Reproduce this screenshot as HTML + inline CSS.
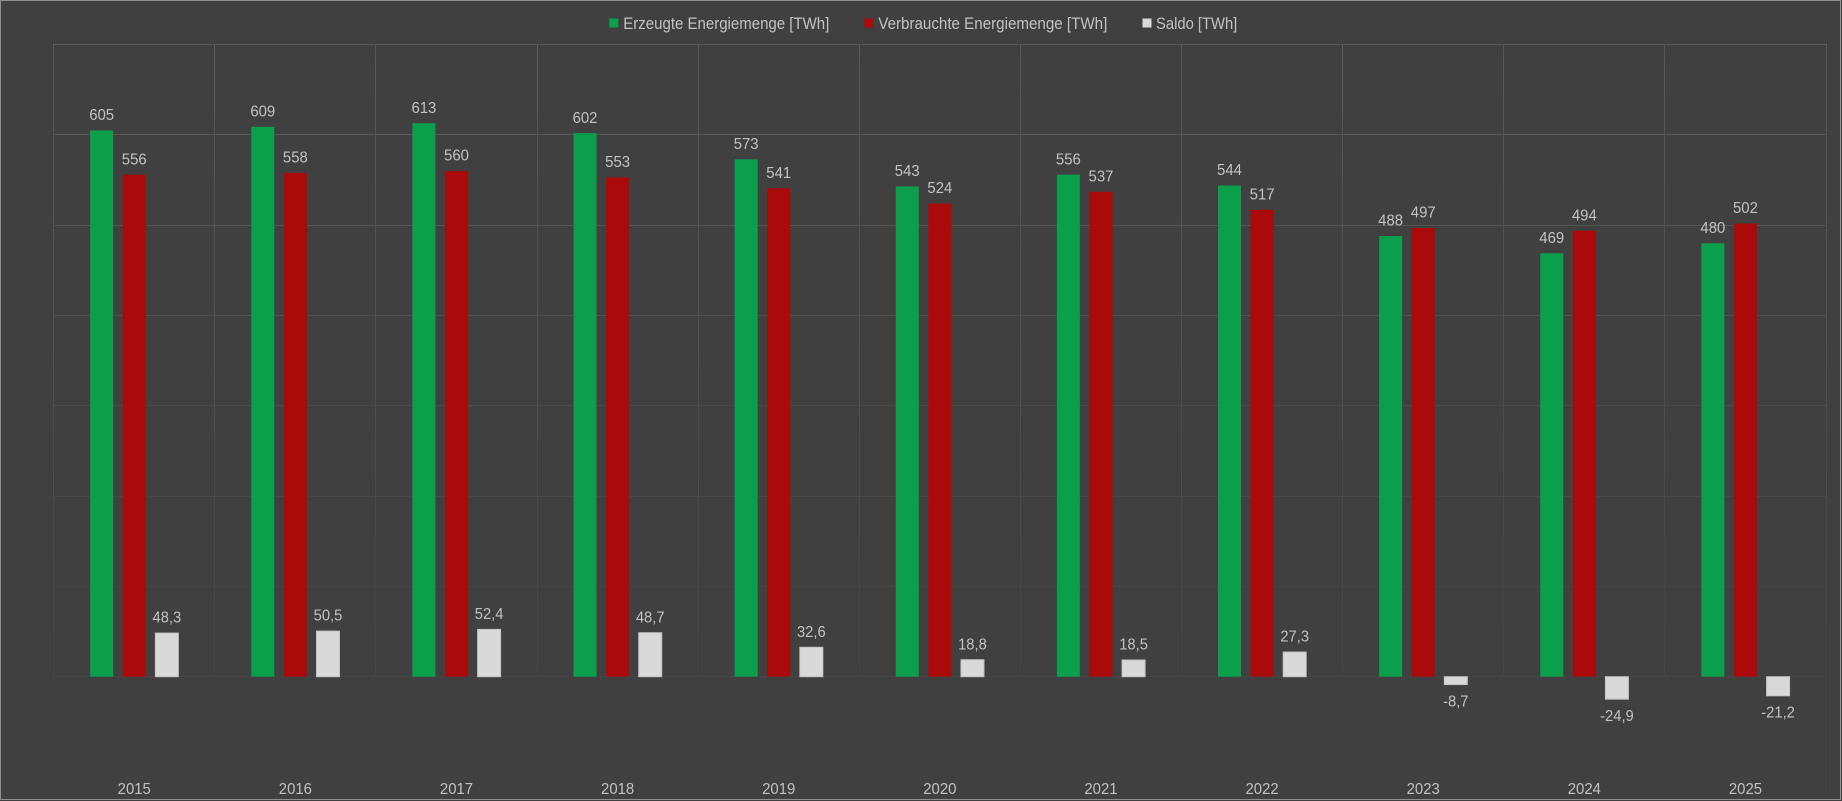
<!DOCTYPE html>
<html>
<head>
<meta charset="utf-8">
<style>
html,body{margin:0;padding:0;background:#404040;}
svg{display:block;}
text{font-family:"Liberation Sans",sans-serif;fill:#c2c2c2;}
</style>
</head>
<body>
<svg width="1842" height="801" viewBox="0 0 1842 801" xmlns="http://www.w3.org/2000/svg">
<defs>
<linearGradient id="vg" gradientUnits="userSpaceOnUse" x1="0" y1="44" x2="0" y2="677">
<stop offset="0" stop-color="#595959"/>
<stop offset="0.5" stop-color="#4f4f4f"/>
<stop offset="1" stop-color="#454545"/>
</linearGradient>
</defs>
<rect x="0" y="0" width="1842" height="801" fill="#404040"/>
<rect x="0.5" y="0.5" width="1840" height="799" fill="none" stroke="#8f8f8f" stroke-width="1"/>

<!-- horizontal gridlines -->
<g stroke-width="1">
<line x1="53.5" y1="44.5" x2="1826.5" y2="44.5" stroke="#595959"/>
<line x1="53.5" y1="134.5" x2="1826.5" y2="134.5" stroke="#575757"/>
<line x1="53.5" y1="225.5" x2="1826.5" y2="225.5" stroke="#545454"/>
<line x1="53.5" y1="315.5" x2="1826.5" y2="315.5" stroke="#4f4f4f"/>
<line x1="53.5" y1="405.5" x2="1826.5" y2="405.5" stroke="#4b4b4b"/>
<line x1="53.5" y1="496.5" x2="1826.5" y2="496.5" stroke="#484848"/>
<line x1="53.5" y1="586.5" x2="1826.5" y2="586.5" stroke="#454545"/>
<line x1="53.5" y1="676.5" x2="1826.5" y2="676.5" stroke="#454545"/>
</g>
<!-- vertical gridlines -->
<g stroke="url(#vg)" stroke-width="1">
<line x1="53.5" y1="44" x2="53.5" y2="677"/>
<line x1="214.5" y1="44" x2="214.5" y2="677"/>
<line x1="375.5" y1="44" x2="375.5" y2="677"/>
<line x1="537.5" y1="44" x2="537.5" y2="677"/>
<line x1="698.5" y1="44" x2="698.5" y2="677"/>
<line x1="859.5" y1="44" x2="859.5" y2="677"/>
<line x1="1020.5" y1="44" x2="1020.5" y2="677"/>
<line x1="1181.5" y1="44" x2="1181.5" y2="677"/>
<line x1="1342.5" y1="44" x2="1342.5" y2="677"/>
<line x1="1503.5" y1="44" x2="1503.5" y2="677"/>
<line x1="1664.5" y1="44" x2="1664.5" y2="677"/>
<line x1="1826.5" y1="44" x2="1826.5" y2="677"/>
</g>
<line x1="1826.5" y1="677" x2="1826.5" y2="795" stroke="#464646" stroke-width="1"/>

<!-- legend -->
<rect x="609.3" y="18.5" width="9" height="9" fill="#0b9f4c"/>
<text x="623.3" y="29" font-size="17" textLength="206" lengthAdjust="spacingAndGlyphs">Erzeugte Energiemenge [TWh]</text>
<rect x="864.3" y="18.5" width="9" height="9" fill="#ab0a0a"/>
<text x="878.3" y="29" font-size="17" textLength="229" lengthAdjust="spacingAndGlyphs">Verbrauchte Energiemenge [TWh]</text>
<rect x="1142.5" y="18.5" width="9" height="9" fill="#d9d9d9"/>
<text x="1156" y="29" font-size="17" textLength="81.3" lengthAdjust="spacingAndGlyphs">Saldo [TWh]</text>

<!-- green bars -->
<g fill="#0b9f4c">
<rect x="90.16" y="130.45" width="23" height="546.25"/>
<rect x="251.28" y="126.83" width="23" height="549.87"/>
<rect x="412.40" y="123.22" width="23" height="553.48"/>
<rect x="573.52" y="133.15" width="23" height="543.55"/>
<rect x="734.64" y="159.34" width="23" height="517.36"/>
<rect x="895.76" y="186.43" width="23" height="490.27"/>
<rect x="1056.88" y="174.69" width="23" height="502.01"/>
<rect x="1218.00" y="185.52" width="23" height="491.18"/>
<rect x="1379.12" y="236.08" width="23" height="440.62"/>
<rect x="1540.24" y="253.24" width="23" height="423.46"/>
<rect x="1701.36" y="243.31" width="23" height="433.39"/>
</g>
<!-- red bars -->
<g fill="#ab0a0a">
<rect x="122.76" y="174.69" width="23" height="502.01"/>
<rect x="283.88" y="172.88" width="23" height="503.82"/>
<rect x="445.00" y="171.08" width="23" height="505.62"/>
<rect x="606.12" y="177.40" width="23" height="499.30"/>
<rect x="767.24" y="188.23" width="23" height="488.47"/>
<rect x="928.36" y="203.58" width="23" height="473.12"/>
<rect x="1089.48" y="191.84" width="23" height="484.86"/>
<rect x="1250.60" y="209.90" width="23" height="466.80"/>
<rect x="1411.72" y="227.96" width="23" height="448.74"/>
<rect x="1572.84" y="230.67" width="23" height="446.03"/>
<rect x="1733.96" y="223.44" width="23" height="453.26"/>
</g>
<!-- saldo bars -->
<g fill="#d9d9d9" stroke="#c4c4c4" stroke-width="1">
<rect x="155.36" y="633.09" width="23" height="43.61"/>
<rect x="316.48" y="631.10" width="23" height="45.60"/>
<rect x="477.60" y="629.39" width="23" height="47.31"/>
<rect x="638.72" y="632.73" width="23" height="43.97"/>
<rect x="799.84" y="647.27" width="23" height="29.43"/>
<rect x="960.96" y="659.73" width="23" height="16.97"/>
<rect x="1122.08" y="660.00" width="23" height="16.70"/>
<rect x="1283.20" y="652.05" width="23" height="24.65"/>
<rect x="1444.32" y="676.70" width="23" height="7.86"/>
<rect x="1605.44" y="676.70" width="23" height="22.48"/>
<rect x="1766.56" y="676.70" width="23" height="19.14"/>
</g>

<!-- data labels -->
<g font-size="16" text-anchor="middle">
<text x="101.66" y="120.05" textLength="24.9" lengthAdjust="spacingAndGlyphs">605</text>
<text x="134.26" y="164.29" textLength="24.9" lengthAdjust="spacingAndGlyphs">556</text>
<text x="166.86" y="622.69" textLength="28.7" lengthAdjust="spacingAndGlyphs">48,3</text>

<text x="262.78" y="116.43" textLength="24.9" lengthAdjust="spacingAndGlyphs">609</text>
<text x="295.38" y="162.48" textLength="24.9" lengthAdjust="spacingAndGlyphs">558</text>
<text x="327.98" y="620.70" textLength="28.7" lengthAdjust="spacingAndGlyphs">50,5</text>

<text x="423.90" y="112.82" textLength="24.9" lengthAdjust="spacingAndGlyphs">613</text>
<text x="456.50" y="160.68" textLength="24.9" lengthAdjust="spacingAndGlyphs">560</text>
<text x="489.10" y="618.99" textLength="28.7" lengthAdjust="spacingAndGlyphs">52,4</text>

<text x="585.02" y="122.75" textLength="24.9" lengthAdjust="spacingAndGlyphs">602</text>
<text x="617.62" y="167.00" textLength="24.9" lengthAdjust="spacingAndGlyphs">553</text>
<text x="650.22" y="622.33" textLength="28.7" lengthAdjust="spacingAndGlyphs">48,7</text>

<text x="746.14" y="148.94" textLength="24.9" lengthAdjust="spacingAndGlyphs">573</text>
<text x="778.74" y="177.83" textLength="24.9" lengthAdjust="spacingAndGlyphs">541</text>
<text x="811.34" y="636.87" textLength="28.7" lengthAdjust="spacingAndGlyphs">32,6</text>

<text x="907.26" y="176.03" textLength="24.9" lengthAdjust="spacingAndGlyphs">543</text>
<text x="939.86" y="193.18" textLength="24.9" lengthAdjust="spacingAndGlyphs">524</text>
<text x="972.46" y="649.33" textLength="28.7" lengthAdjust="spacingAndGlyphs">18,8</text>

<text x="1068.38" y="164.29" textLength="24.9" lengthAdjust="spacingAndGlyphs">556</text>
<text x="1100.98" y="181.44" textLength="24.9" lengthAdjust="spacingAndGlyphs">537</text>
<text x="1133.58" y="649.60" textLength="28.7" lengthAdjust="spacingAndGlyphs">18,5</text>

<text x="1229.50" y="175.12" textLength="24.9" lengthAdjust="spacingAndGlyphs">544</text>
<text x="1262.10" y="199.50" textLength="24.9" lengthAdjust="spacingAndGlyphs">517</text>
<text x="1294.70" y="641.65" textLength="28.7" lengthAdjust="spacingAndGlyphs">27,3</text>

<text x="1390.62" y="225.68" textLength="24.9" lengthAdjust="spacingAndGlyphs">488</text>
<text x="1423.22" y="217.56" textLength="24.9" lengthAdjust="spacingAndGlyphs">497</text>
<text x="1455.82" y="706.26" textLength="25.4" lengthAdjust="spacingAndGlyphs">-8,7</text>

<text x="1551.74" y="242.84" textLength="24.9" lengthAdjust="spacingAndGlyphs">469</text>
<text x="1584.34" y="220.27" textLength="24.9" lengthAdjust="spacingAndGlyphs">494</text>
<text x="1616.94" y="720.88" textLength="33.7" lengthAdjust="spacingAndGlyphs">-24,9</text>

<text x="1712.86" y="232.91" textLength="24.9" lengthAdjust="spacingAndGlyphs">480</text>
<text x="1745.46" y="213.04" textLength="24.9" lengthAdjust="spacingAndGlyphs">502</text>
<text x="1778.06" y="717.54" textLength="33.7" lengthAdjust="spacingAndGlyphs">-21,2</text>
</g>

<!-- year labels -->
<g font-size="16" text-anchor="middle">
<text x="134.26" y="794" textLength="33.2" lengthAdjust="spacingAndGlyphs">2015</text>
<text x="295.38" y="794" textLength="33.2" lengthAdjust="spacingAndGlyphs">2016</text>
<text x="456.50" y="794" textLength="33.2" lengthAdjust="spacingAndGlyphs">2017</text>
<text x="617.62" y="794" textLength="33.2" lengthAdjust="spacingAndGlyphs">2018</text>
<text x="778.74" y="794" textLength="33.2" lengthAdjust="spacingAndGlyphs">2019</text>
<text x="939.86" y="794" textLength="33.2" lengthAdjust="spacingAndGlyphs">2020</text>
<text x="1100.98" y="794" textLength="33.2" lengthAdjust="spacingAndGlyphs">2021</text>
<text x="1262.10" y="794" textLength="33.2" lengthAdjust="spacingAndGlyphs">2022</text>
<text x="1423.22" y="794" textLength="33.2" lengthAdjust="spacingAndGlyphs">2023</text>
<text x="1584.34" y="794" textLength="33.2" lengthAdjust="spacingAndGlyphs">2024</text>
<text x="1745.46" y="794" textLength="33.2" lengthAdjust="spacingAndGlyphs">2025</text>
</g>
</svg>
</body>
</html>
